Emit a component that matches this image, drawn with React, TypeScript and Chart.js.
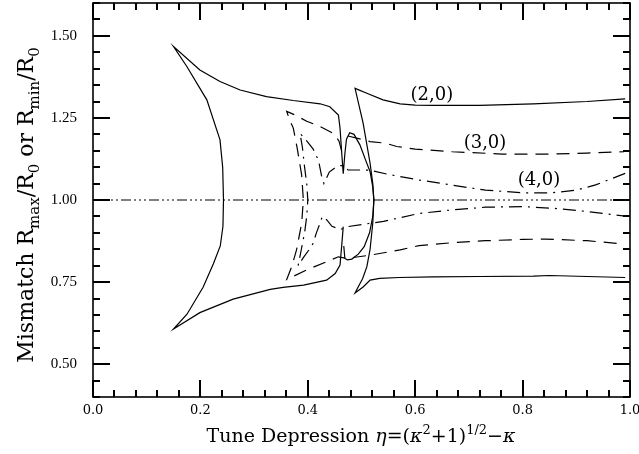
import React, { useEffect, useRef } from 'react';
import { Chart, registerables } from 'chart.js';
Chart.register(...registerables);

// ---- axes ----
const X_MIN = 0;
const X_MAX = 1.0;
const Y_MIN = 0.4;
const Y_MAX = 1.6;
const xTickValues = [0, 0.2, 0.4, 0.6, 0.8, 1.0];
const yTickValues = [0.5, 0.75, 1.0, 1.25, 1.5];
const xMinorStep = 0.04;
const yMinorStep = 0.05;

// ---- reference line ----
const refX = [0, 1.0];
const refY = [1.0, 1.0];

// ---- (2,0) mode: left branch (closed contour with knot) ----
const m20LeftX = [0.466, 0.463, 0.460, 0.451, 0.435, 0.392, 0.354, 0.330, 0.261, 0.199, 0.150, 0.175, 0.205, 0.224, 0.237, 0.242, 0.243, 0.2415, 0.2365, 0.212, 0.175, 0.150, 0.199, 0.2365, 0.274, 0.323, 0.373, 0.423, 0.441, 0.457, 0.460, 0.463, 0.466, 0.469, 0.472, 0.478, 0.486, 0.497, 0.508, 0.516, 0.521, 0.523, 0.521, 0.515, 0.505, 0.494, 0.482, 0.474, 0.469, 0.467];
const m20LeftY = [0.919, 0.858, 0.802, 0.776, 0.756, 0.741, 0.734, 0.728, 0.698, 0.657, 0.607, 0.652, 0.734, 0.805, 0.860, 0.920, 1.000, 1.100, 1.183, 1.305, 1.406, 1.467, 1.396, 1.361, 1.335, 1.315, 1.303, 1.293, 1.284, 1.259, 1.219, 1.147, 1.080, 1.140, 1.185, 1.205, 1.200, 1.168, 1.120, 1.086, 1.040, 1.000, 0.950, 0.900, 0.858, 0.835, 0.820, 0.818, 0.822, 0.860];

// ---- (2,0) mode: right branch ----
const m20RightX = [0.991, 0.92, 0.82, 0.72, 0.634, 0.60, 0.572, 0.54, 0.51, 0.488, 0.503, 0.516, 0.521, 0.523, 0.521, 0.516, 0.51, 0.502, 0.494, 0.488, 0.503, 0.516, 0.534, 0.57, 0.634, 0.72, 0.82, 0.85, 0.92, 0.991];
const m20RightY = [1.308, 1.300, 1.293, 1.288, 1.288, 1.289, 1.293, 1.305, 1.325, 1.340, 1.234, 1.112, 1.050, 1.000, 0.930, 0.850, 0.797, 0.760, 0.736, 0.717, 0.735, 0.756, 0.761, 0.764, 0.766, 0.767, 0.768, 0.770, 0.767, 0.764];

// ---- (3,0) mode: left contour + lower branch ----
const m30LeftX = [0.463, 0.458, 0.4475, 0.4227, 0.398, 0.376, 0.3607, 0.367, 0.373, 0.380, 0.3886, 0.3917, 0.3886, 0.379, 0.370, 0.3607, 0.398, 0.435, 0.457, 0.472, 0.516, 0.572, 0.607, 0.67, 0.731, 0.80, 0.843, 0.92, 0.989];
const m30LeftY = [1.150, 1.180, 1.203, 1.224, 1.240, 1.259, 1.270, 1.240, 1.219, 1.160, 1.076, 1.000, 0.929, 0.848, 0.797, 0.758, 0.787, 0.812, 0.827, 0.822, 0.832, 0.848, 0.861, 0.870, 0.876, 0.880, 0.881, 0.876, 0.866];

// ---- (3,0) mode: upper right branch ----
const m30RightX = [0.475, 0.516, 0.545, 0.5655, 0.60, 0.669, 0.762, 0.855, 0.92, 0.989];
const m30RightY = [1.195, 1.178, 1.173, 1.163, 1.155, 1.147, 1.140, 1.140, 1.143, 1.147];

// ---- (4,0) mode ----
const m40X = [0.991, 0.936, 0.90, 0.855, 0.80, 0.731, 0.67, 0.607, 0.55, 0.514, 0.475, 0.462, 0.452, 0.440, 0.430, 0.426, 0.420, 0.410, 0.398, 0.3855, 0.390, 0.394, 0.398, 0.400, 0.398, 0.394, 0.388, 0.382, 0.392, 0.403, 0.410, 0.416, 0.423, 0.427, 0.435, 0.445, 0.460, 0.475, 0.500, 0.541, 0.607, 0.67, 0.731, 0.80, 0.855, 0.92, 0.991];
const m40Y = [1.081, 1.046, 1.030, 1.022, 1.022, 1.030, 1.045, 1.061, 1.078, 1.091, 1.092, 1.105, 1.100, 1.085, 1.050, 1.070, 1.120, 1.155, 1.180, 1.203, 1.160, 1.100, 1.050, 1.000, 0.950, 0.900, 0.850, 0.800, 0.825, 0.850, 0.868, 0.900, 0.930, 0.950, 0.940, 0.920, 0.910, 0.919, 0.925, 0.935, 0.959, 0.970, 0.978, 0.980, 0.975, 0.965, 0.951];

// ---- curve labels ----
const labelTexts = ['(2,0)', '(3,0)', '(4,0)'];
const labelX = [0.631, 0.730, 0.8305];
const labelY = [1.320, 1.174, 1.061];

type Seg = { t: string; s?: 'sup' | 'sub'; i?: boolean };
const xTitle: Seg[] = [
  { t: 'Tune Depression ' }, { t: 'η', i: true }, { t: '=(' }, { t: 'κ', i: true },
  { t: '2', s: 'sup' }, { t: '+1)' }, { t: '1/2', s: 'sup' }, { t: '−' }, { t: 'κ', i: true },
];
const yTitle: Seg[] = [
  { t: 'Mismatch R' }, { t: 'max', s: 'sub' }, { t: '/R' }, { t: '0', s: 'sub' },
  { t: ' or R' }, { t: 'min', s: 'sub' }, { t: '/R' }, { t: '0', s: 'sub' },
];

const SERIF = '"DejaVu Serif", serif';

function drawRich(ctx: CanvasRenderingContext2D, segs: Seg[], size: number, cx: number, baseY: number) {
  const fontFor = (g: Seg) => `${g.i ? 'italic ' : ''}${g.s ? Math.round(size * 0.68) : size}px ${SERIF}`;
  let total = 0;
  for (const g of segs) { ctx.font = fontFor(g); total += ctx.measureText(g.t).width; }
  let x = cx - total / 2;
  ctx.textAlign = 'left';
  ctx.textBaseline = 'alphabetic';
  for (const g of segs) {
    ctx.font = fontFor(g);
    const dy = g.s === 'sup' ? -size * 0.42 : g.s === 'sub' ? size * 0.25 : 0;
    ctx.fillText(g.t, x, baseY + dy);
    x += ctx.measureText(g.t).width;
  }
}

const tickPlugin = {
  id: 'innerTicks',
  afterDatasetsDraw(chart: any) {
    const ctx: CanvasRenderingContext2D = chart.ctx;
    const a = chart.chartArea;
    const xs = chart.scales.x, ys = chart.scales.y;
    ctx.save();
    ctx.setLineDash([]);
    const nx = Math.round((X_MAX - X_MIN) / xMinorStep);
    for (let i = 0; i <= nx; i++) {
      const v = X_MIN + i * xMinorStep;
      const len = i % 5 === 0 ? 17 : 7;
      const p = Math.round(xs.getPixelForValue(v));
      ctx.fillStyle = 'rgb(0,0,0)';
      ctx.fillRect(p - 1, a.bottom - len, 2, len);
      ctx.fillRect(p - 1, a.top, 2, len);
    }
    const ny = Math.round((Y_MAX - Y_MIN) / yMinorStep);
    for (let i = 0; i <= ny; i++) {
      const v = Y_MIN + i * yMinorStep;
      const len = (i + 3) % 5 === 0 ? 17 : 7;
      const p = Math.round(ys.getPixelForValue(v));
      ctx.fillStyle = 'rgb(0,0,0)';
      ctx.fillRect(a.left, p - 1, len, 2);
      ctx.fillRect(a.right - len, p - 1, len, 2);
    }
    ctx.restore();
  },
};

const framePlugin = {
  id: 'frameText',
  afterDraw(chart: any) {
    const ctx: CanvasRenderingContext2D = chart.ctx;
    const a = chart.chartArea;
    const xs = chart.scales.x, ys = chart.scales.y;
    ctx.save();
    ctx.fillStyle = '#000';
    ctx.strokeStyle = '#000';
    ctx.lineWidth = 1.6;
    ctx.strokeRect(a.left, a.top, a.right - a.left, a.bottom - a.top);

    ctx.font = `18px ${SERIF}`;
    ctx.textAlign = 'center';
    ctx.textBaseline = 'middle';
    labelTexts.forEach((t, i) => {
      ctx.fillText(t, xs.getPixelForValue(labelX[i]), ys.getPixelForValue(labelY[i]));
    });

    drawRich(ctx, xTitle, 19, 361, 442);
    ctx.translate(33, 205);
    ctx.rotate(-Math.PI / 2);
    drawRich(ctx, yTitle, 22, 0, 0);
    ctx.restore();
  },
};

const zip = (xs: number[], ys: number[]) => xs.map((x, i) => ({ x, y: ys[i] }));

export default function App() {
  const ref = useRef<HTMLCanvasElement>(null);
  useEffect(() => {
    if (!ref.current) return;
    const base = { showLine: true, pointRadius: 0, borderColor: '#000', borderWidth: 1.2, tension: 0, fill: false };
    const chart = new Chart(ref.current, {
      type: 'scatter',
      data: {
        datasets: [
          { ...base, label: 'ref', data: zip(refX, refY), borderDash: [10, 3, 2, 3, 2, 3, 2, 3] },
          { ...base, label: '(2,0) left', data: zip(m20LeftX, m20LeftY) },
          { ...base, label: '(2,0) right', data: zip(m20RightX, m20RightY) },
          { ...base, label: '(3,0) left', data: zip(m30LeftX, m30LeftY), borderDash: [13, 8] },
          { ...base, label: '(3,0) right', data: zip(m30RightX, m30RightY), borderDash: [13, 8] },
          { ...base, label: '(4,0)', data: zip(m40X, m40Y), borderDash: [13, 6, 2, 6] },
        ] as any,
      },
      options: {
        animation: false,
        responsive: true,
        maintainAspectRatio: false,
        layout: { padding: { top: 3, right: 9, left: 0, bottom: 0 }, autoPadding: false } as any,
        plugins: { legend: { display: false }, tooltip: { enabled: false }, title: { display: false } },
        scales: {
          x: {
            type: 'linear', min: X_MIN, max: X_MAX,
            grid: { display: false, drawTicks: false },
            border: { display: false },
            ticks: {
              padding: 6, color: '#000', maxRotation: 0, autoSkip: false,
              font: { family: SERIF, size: 13 },
              callback: (v: any) => Number(v).toFixed(1),
            },
            afterBuildTicks: (s: any) => { s.ticks = xTickValues.map((value) => ({ value })); },
            afterFit: (s: any) => {
              s.height = 57;
              s.paddingLeft = 0; s.paddingRight = 0; s.paddingTop = 0; s.paddingBottom = 0;
            },
          },
          y: {
            type: 'linear', min: Y_MIN, max: Y_MAX,
            grid: { display: false, drawTicks: false },
            border: { display: false },
            ticks: {
              padding: 16, color: '#000', autoSkip: false,
              font: { family: '"Liberation Serif", serif', size: 15 },
              callback: (v: any) => Number(v).toFixed(2),
            },
            afterBuildTicks: (s: any) => { s.ticks = yTickValues.map((value) => ({ value })); },
            afterFit: (s: any) => {
              s.width = 93;
              s.paddingLeft = 0; s.paddingRight = 0; s.paddingTop = 0; s.paddingBottom = 0;
            },
          },
        },
      } as any,
      plugins: [tickPlugin, framePlugin],
    });
    return () => chart.destroy();
  }, []);
  return (
    <div style={{ position: 'absolute', left: 0, top: 0, width: 639, height: 454, background: '#fff' }}>
      <canvas ref={ref} />
    </div>
  );
}
